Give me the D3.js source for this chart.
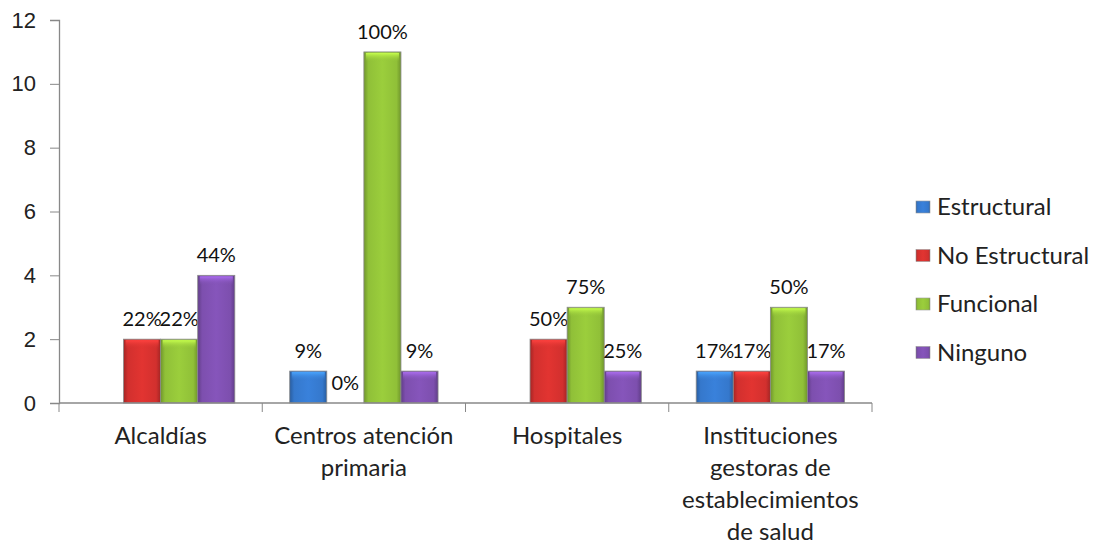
<!DOCTYPE html>
<html>
<head>
<meta charset="utf-8">
<script src="https://cdn.jsdelivr.net/npm/d3@7"></script>
<style>
  body { margin: 0; background: #fff; }
  svg { font-family: Lato, "Open Sans", sans-serif; }
</style>
</head>
<body>
<script>
// chart data
const categories = ['Alcaldías', 'Centros atención primaria', 'Hospitales', 'Instituciones gestoras de establecimientos de salud']
const categoryLines = [
  ['Alcaldías'],
  ['Centros atención', 'primaria'],
  ['Hospitales'],
  ['Instituciones', 'gestoras de', 'establecimientos', 'de salud']
]
const series = ['Estructural', 'No Estructural', 'Funcional', 'Ninguno']
const estructural = [null, 1, null, 1]
const noEstructural = [2, 0, 2, 1]
const funcional = [2, 11, 3, 3]
const ninguno = [4, 1, 1, 1]
const estructuralPct = [null, '9%', null, '17%']
const noEstructuralPct = ['22%', '0%', '50%', '17%']
const funcionalPct = ['22%', '100%', '75%', '50%']
const ningunoPct = ['44%', '9%', '25%', '17%']
const yTicks = [0, 2, 4, 6, 8, 10, 12]

const values = [estructural, noEstructural, funcional, ninguno]
const pcts = [estructuralPct, noEstructuralPct, funcionalPct, ningunoPct]
const colors = ['#3578cc', '#d2302e', '#90c038', '#7d4fae']

const width = 1101, height = 545
const margin = {top: 20, left: 59, right: 229, bottom: 142}
const plotRight = width - margin.right
const plotBottom = height - margin.bottom

const svg = d3.select('body').append('svg')
    .attr('width', width)
    .attr('height', height)

// gradients to imitate the bevelled bars
const defs = svg.append('defs')
colors.forEach((c, i) => {
  const g = defs.append('linearGradient')
      .attr('id', 'grad' + i)
      .attr('x1', '0%').attr('x2', '100%')
  g.append('stop').attr('offset', '0%').attr('stop-color', d3.color(c).darker(0.7))
  g.append('stop').attr('offset', '12%').attr('stop-color', c)
  g.append('stop').attr('offset', '50%').attr('stop-color', d3.color(c).brighter(0.2))
  g.append('stop').attr('offset', '88%').attr('stop-color', c)
  g.append('stop').attr('offset', '100%').attr('stop-color', d3.color(c).darker(0.7))
  const t = defs.append('linearGradient')
      .attr('id', 'top' + i)
      .attr('x1', '0%').attr('x2', '0%').attr('y1', '0%').attr('y2', '100%')
  t.append('stop').attr('offset', '0%').attr('stop-color', d3.color(c).brighter(0.9))
  t.append('stop').attr('offset', '100%').attr('stop-color', c).attr('stop-opacity', 0)
})

const x0 = d3.scaleBand()
    .domain(categories)
    .range([margin.left, plotRight])

const x1 = d3.scaleBand()
    .domain(series)
    .range([0, x0.bandwidth()])
    .paddingOuter(0.74)

const y = d3.scaleLinear()
    .domain([0, 12])
    .range([plotBottom, margin.top])

// y axis
const yAxis = svg.append('g')
    .attr('transform', 'translate(' + margin.left + ',0)')
    .call(d3.axisLeft(y).tickValues(yTicks).tickSize(9).tickPadding(14))
yAxis.select('.domain').attr('stroke', '#888').attr('stroke-width', 1.3)
yAxis.selectAll('.tick line').attr('stroke', '#888')
yAxis.selectAll('text')
    .style('font-size', '22px')
    .attr('fill', '#222')

// bars
const groups = svg.selectAll('.group')
  .data(categories)
  .enter()
  .append('g')
    .attr('class', 'group')
    .attr('transform', d => 'translate(' + x0(d) + ',0)')

series.forEach((s, si) => {
  const withBar = groups.filter((d, ci) => values[si][ci] !== null && values[si][ci] > 0)
  withBar.append('rect')
      .attr('x', x1(s))
      .attr('y', (d) => y(values[si][categories.indexOf(d)]))
      .attr('width', x1.bandwidth())
      .attr('height', (d) => plotBottom - y(values[si][categories.indexOf(d)]))
      .attr('fill', 'url(#grad' + si + ')')
      .attr('stroke', '#8a8a8a')
      .attr('stroke-width', 0.8)

  // top bevel highlight
  withBar.append('rect')
      .attr('x', x1(s) + 2)
      .attr('y', (d) => y(values[si][categories.indexOf(d)]) + 1)
      .attr('width', x1.bandwidth() - 4)
      .attr('height', 9)
      .attr('fill', 'url(#top' + si + ')')

  groups.filter((d, ci) => pcts[si][ci] !== null)
    .append('text')
      .attr('x', x1(s) + x1.bandwidth() / 2)
      .attr('y', (d) => y(values[si][categories.indexOf(d)]) - 13)
      .attr('text-anchor', 'middle')
      .style('font-size', '20px')
      .attr('fill', '#111')
      .text((d) => pcts[si][categories.indexOf(d)])
})

// x axis
const xAxis = svg.append('g')
    .attr('transform', 'translate(0,' + plotBottom + ')')
xAxis.append('line')
    .attr('x1', margin.left).attr('x2', plotRight)
    .attr('stroke', '#888').attr('stroke-width', 1.3)
xAxis.selectAll('.xtick')
  .data(categories.map(d => x0(d)).concat([plotRight]))
  .enter()
  .append('line')
    .attr('x1', d => d).attr('x2', d => d)
    .attr('y1', 0).attr('y2', 9)
    .attr('stroke', '#888')

categories.forEach((c, i) => {
  const t = xAxis.append('text')
      .attr('x', x0(c) + x0.bandwidth() / 2)
      .attr('y', 41)
      .attr('text-anchor', 'middle')
      .style('font-size', '24px')
      .attr('fill', '#222')
  categoryLines[i].forEach((line, li) => {
    t.append('tspan')
        .attr('x', x0(c) + x0.bandwidth() / 2)
        .attr('dy', li === 0 ? 0 : 32)
        .text(line)
  })
})

// legend
const legend = svg.selectAll('.legend')
  .data(series)
  .enter()
  .append('g')
    .attr('class', 'legend')
    .attr('transform', (d, i) => 'translate(916,' + (207 + i * 48.5) + ')')

legend.append('rect')
    .attr('x', 0).attr('y', -6)
    .attr('width', 14).attr('height', 12)
    .attr('fill', (d, i) => 'url(#grad' + i + ')')
    .attr('stroke', '#999').attr('stroke-width', 0.6)

legend.append('text')
    .attr('x', 21)
    .attr('y', 8)
    .style('font-size', '24px')
    .attr('fill', '#222')
    .text(d => d)
</script>
</body>
</html>
